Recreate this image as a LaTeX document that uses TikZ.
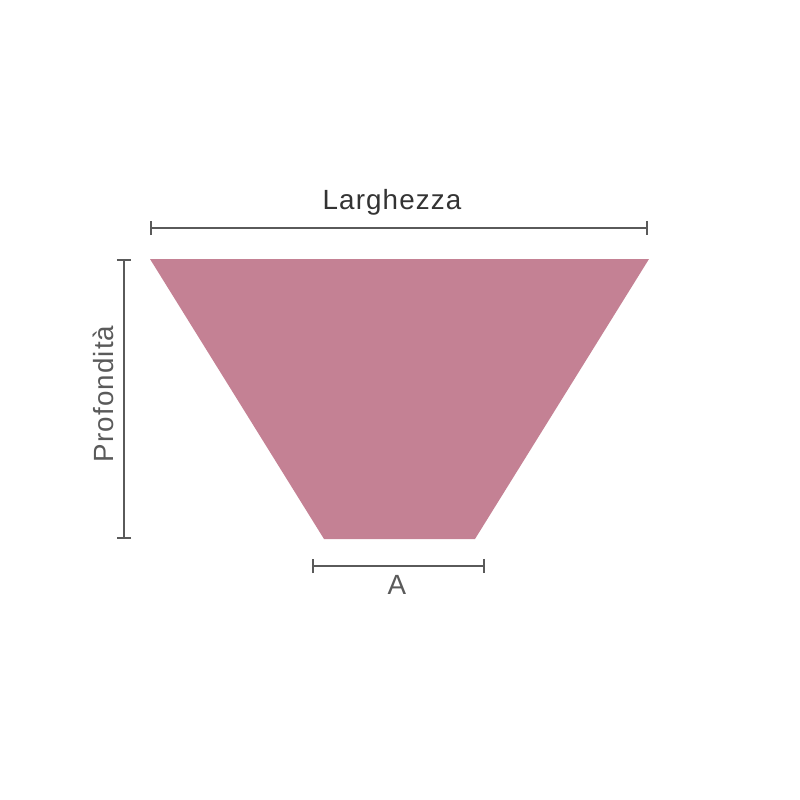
\documentclass[tikz,border=0pt]{standalone}
\usepackage{fontspec}
\setmainfont{Liberation Sans}[LetterSpace=4]
\usetikzlibrary{arrows.meta}
\definecolor{rosa}{HTML}{C48194}
\definecolor{quota}{HTML}{5A5A5A}
\newcommand{\tickw}{4pt}

\begin{document}
\begin{tikzpicture}[x=0.01cm,y=-0.01cm,
    dimline/.style={draw=quota,line width=0.6pt,{Bar[width=\tickw]}-{Bar[width=\tickw]}},
    dimlabel/.style={text=quota,font=\fontsize{7.9pt}{10pt}\selectfont,inner sep=0pt}]
  \useasboundingbox (0,0) rectangle (800,800);

  % trapezio
  \coordinate (tl) at (150,259);
  \coordinate (tr) at (649,259);
  \coordinate (br) at (475,539);
  \coordinate (bl) at (324,539);
  \fill [rosa] (tl) -- (tr) -- (br) -- (bl) -- cycle;

  % quote
  \coordinate (lw) at (150,228);
  \coordinate (le) at (648,228);
  \coordinate (pn) at (124,259);
  \coordinate (ps) at (124,539);
  \coordinate (aw) at (312,566);
  \coordinate (ae) at (485,566);
  \foreach \from/\to in {lw/le,pn/ps,aw/ae}
    \path [dimline] (\from) -- (\to);

  \node [dimlabel,text=black!80] (larghezza) at (392,202) {Larghezza};
  \node [dimlabel,rotate=90] (profondita) at (103,394) {Profondità};
  \node [dimlabel] (a) at (397,585) {A};
\end{tikzpicture}
\end{document}
